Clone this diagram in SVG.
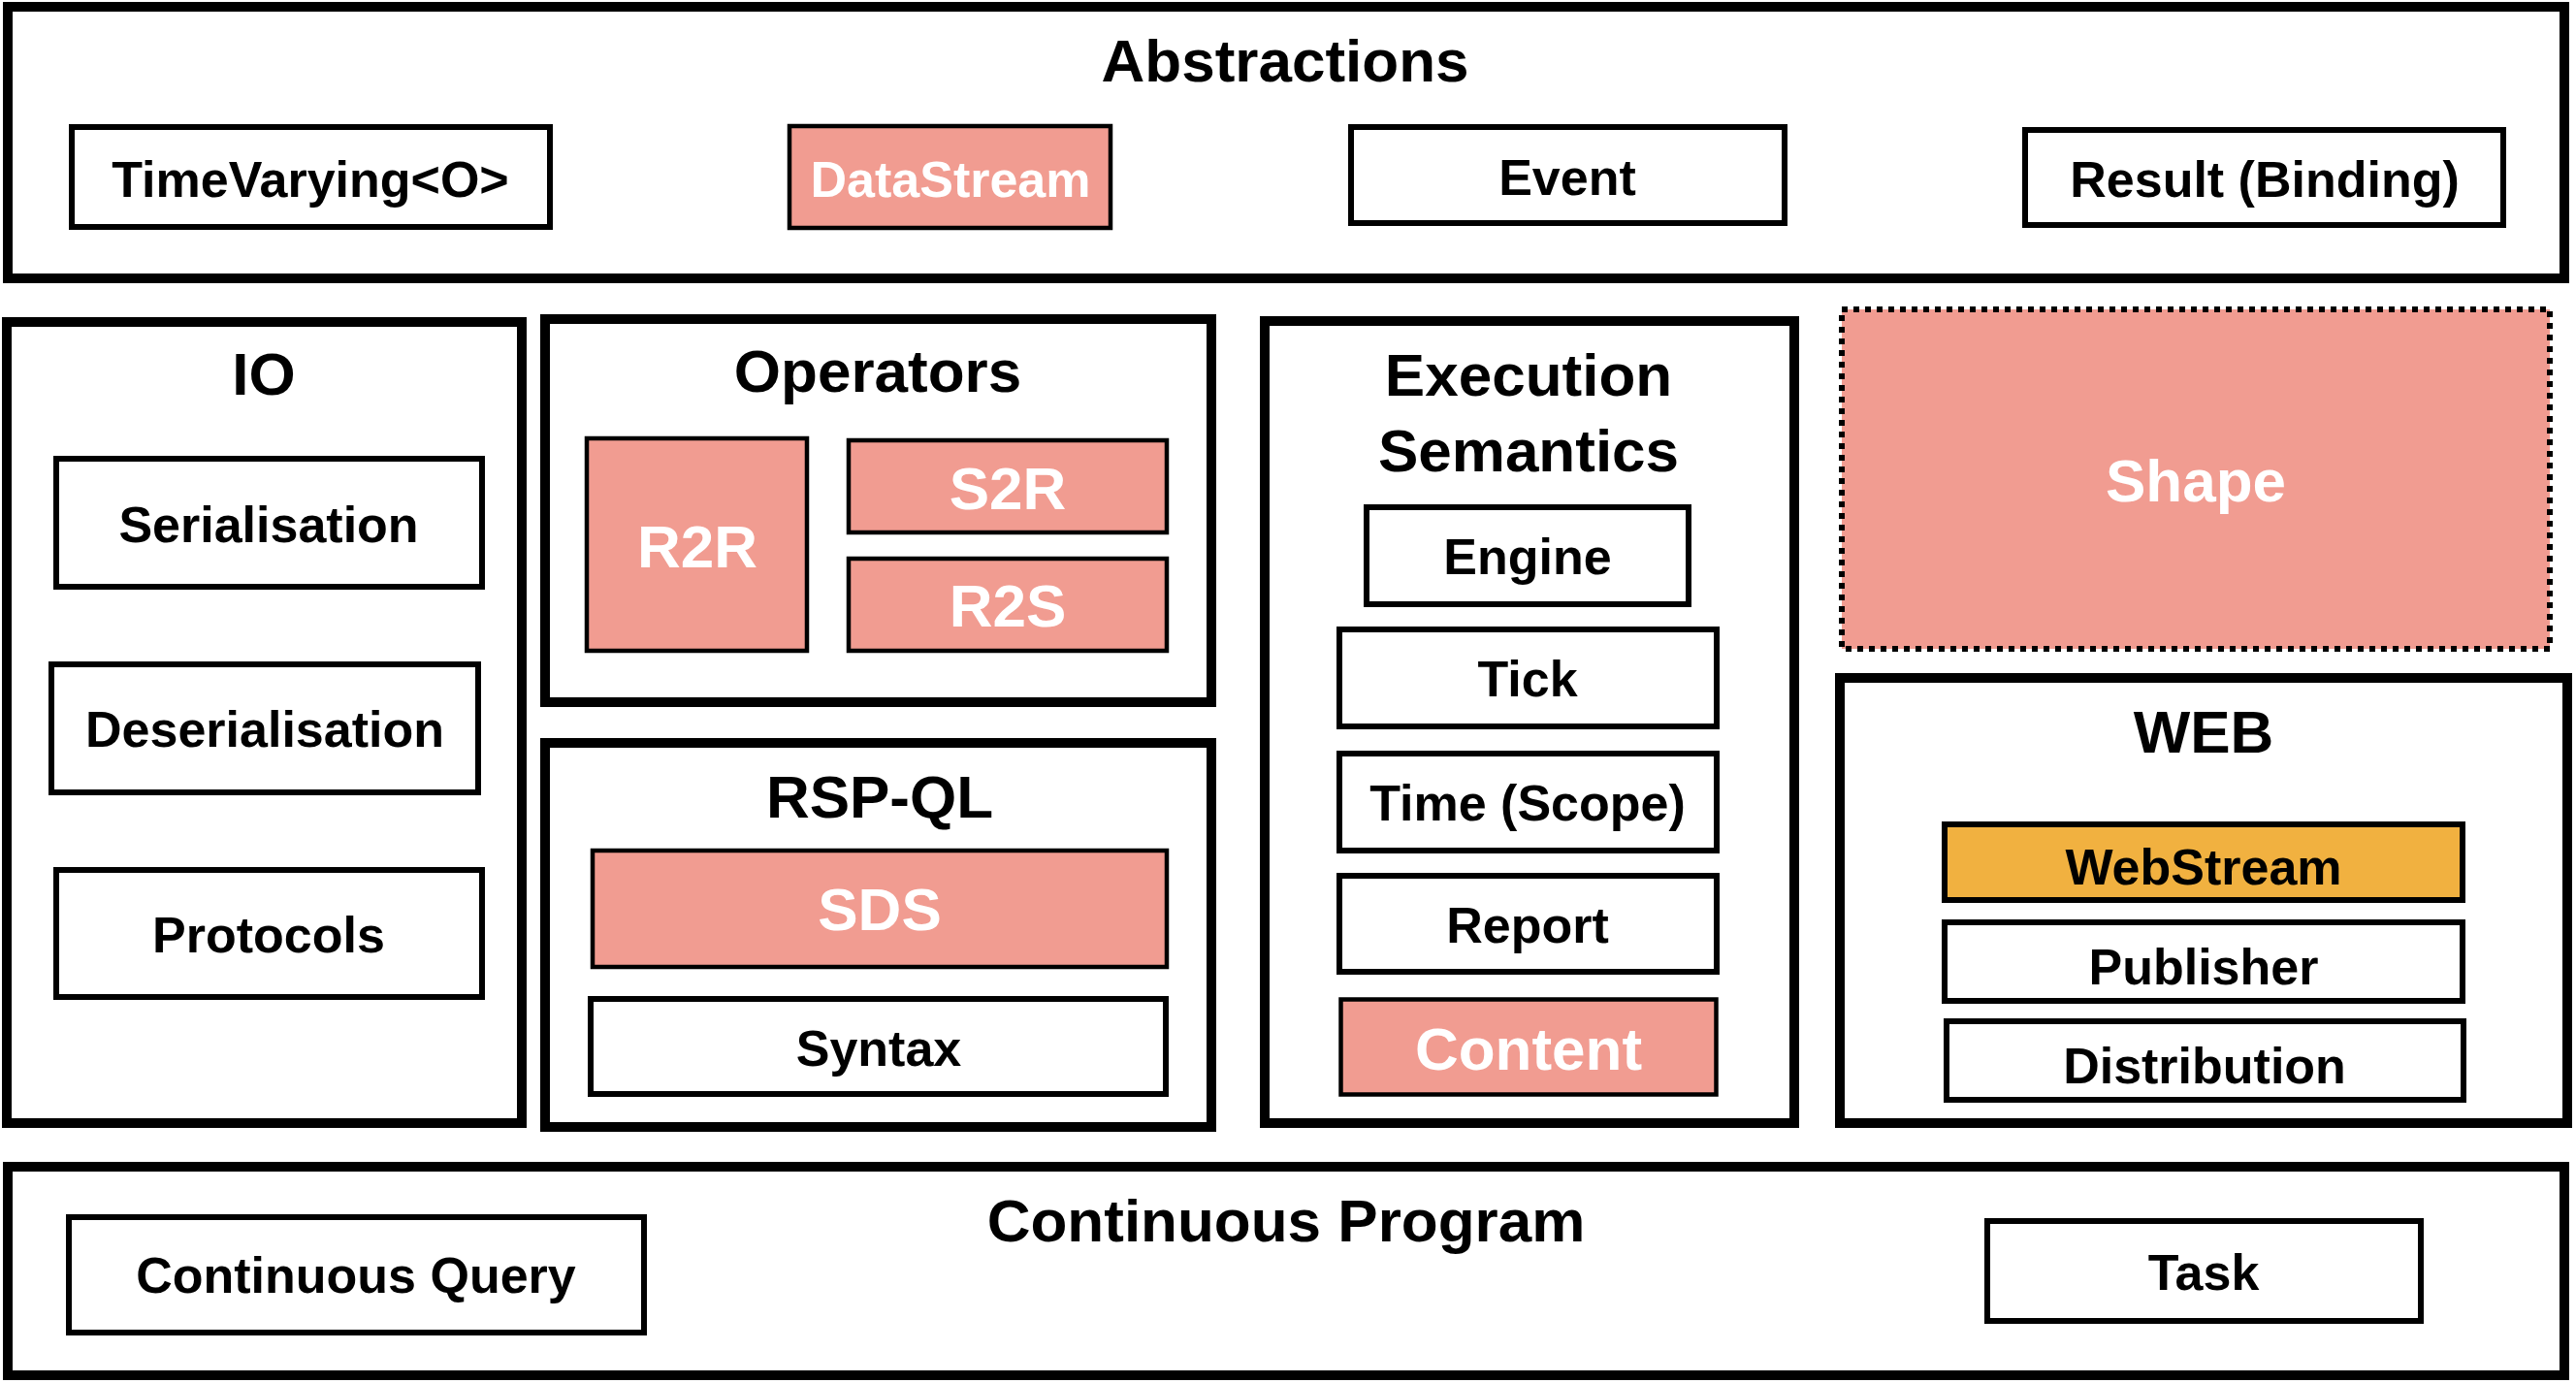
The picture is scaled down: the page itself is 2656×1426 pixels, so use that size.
<svg xmlns="http://www.w3.org/2000/svg" width="2656" height="1426" viewBox="0 0 2656 1426">
<style>
text{font-family:"Liberation Sans",Arial,Helvetica,sans-serif;font-weight:bold;text-anchor:middle;fill:#000}
.outer{fill:#fff;stroke:#000;stroke-width:10}
.box{fill:#fff;stroke:#000;stroke-width:6}
.salmon{fill:#F19C91;stroke:#000;stroke-width:4.5}
.orange{fill:#F1B140;stroke:#000;stroke-width:6}
.shape{fill:#F19C91;stroke:#000;stroke-width:6;stroke-dasharray:6 6}
.t{font-size:62px}
.l{font-size:52px}
.w{fill:#fff}
</style>
<rect width="2656" height="1426" fill="#fff"/>
<g id="abstractions">
<rect class="outer" x="8" y="7" width="2636" height="280"/>
<text class="t" x="1325" y="84">Abstractions</text>
</g>
<g id="timevarying"><rect class="box" x="74" y="131" width="493" height="103"/><text class="l" x="320" y="203">TimeVarying&lt;O&gt;</text></g>
<g id="datastream"><rect class="salmon" x="814" y="130" width="331" height="105"/><text class="l w" x="980" y="203">DataStream</text></g>
<g id="event"><rect class="box" x="1393" y="131" width="447" height="99"/><text class="l" x="1616" y="201">Event</text></g>
<g id="result"><rect class="box" x="2088" y="134" width="493" height="98"/><text class="l" x="2335" y="203">Result (Binding)</text></g>

<g id="io">
<rect class="outer" x="7" y="332" width="531" height="826"/>
<text class="t" x="272" y="407">IO</text>
</g>
<g id="serialisation"><rect class="box" x="58" y="473" width="439" height="132"/><text class="l" x="277" y="559">Serialisation</text></g>
<g id="deserialisation"><rect class="box" x="53" y="685" width="440" height="132"/><text class="l" x="273" y="770">Deserialisation</text></g>
<g id="protocols"><rect class="box" x="58" y="897" width="439" height="131"/><text class="l" x="277" y="982">Protocols</text></g>

<g id="operators">
<rect class="outer" x="562" y="329" width="687" height="395"/>
<text class="t" x="905" y="404">Operators</text>
</g>
<g id="r2r"><rect class="salmon" x="605" y="452" width="227" height="219"/><text class="t w" x="719" y="585">R2R</text></g>
<g id="s2r"><rect class="salmon" x="875" y="454" width="328" height="95"/><text class="t w" x="1039" y="525">S2R</text></g>
<g id="r2s"><rect class="salmon" x="875" y="576" width="328" height="95"/><text class="t w" x="1039" y="646">R2S</text></g>

<g id="rspql">
<rect class="outer" x="562" y="766" width="687" height="396"/>
<text class="t" x="907" y="843">RSP-QL</text>
</g>
<g id="sds"><rect class="salmon" x="611" y="877" width="592" height="120"/><text class="t w" x="907" y="959">SDS</text></g>
<g id="syntax"><rect class="box" x="609" y="1030" width="593" height="98"/><text class="l" x="906" y="1099">Syntax</text></g>

<g id="execution">
<rect class="outer" x="1304" y="331" width="546" height="827"/>
<text class="t" x="1576" y="408">Execution</text>
<text class="t" x="1576" y="486">Semantics</text>
</g>
<g id="engine"><rect class="box" x="1409" y="523" width="332" height="100"/><text class="l" x="1575" y="592">Engine</text></g>
<g id="tick"><rect class="box" x="1381" y="649" width="389" height="100"/><text class="l" x="1575" y="718">Tick</text></g>
<g id="time"><rect class="box" x="1381" y="777" width="389" height="100"/><text class="l" x="1575" y="846">Time (Scope)</text></g>
<g id="report"><rect class="box" x="1381" y="903" width="389" height="99"/><text class="l" x="1575" y="972">Report</text></g>
<g id="content"><rect class="salmon" x="1382.5" y="1030.5" width="387" height="98"/><text class="t w" x="1576" y="1103">Content</text></g>

<g id="shape"><rect class="shape" x="1899" y="319" width="730" height="350"/><text class="t w" x="2264" y="517">Shape</text></g>

<g id="web">
<rect class="outer" x="1897" y="699" width="750" height="459"/>
<text class="t" x="2272" y="776">WEB</text>
</g>
<g id="webstream"><rect class="orange" x="2005" y="850" width="534" height="78"/><text class="l" x="2272" y="912">WebStream</text></g>
<g id="publisher"><rect class="box" x="2005" y="951" width="534" height="81"/><text class="l" x="2272" y="1015">Publisher</text></g>
<g id="distribution"><rect class="box" x="2007" y="1053" width="533" height="81"/><text class="l" x="2273" y="1117">Distribution</text></g>

<g id="continuous-program">
<rect class="outer" x="8" y="1203" width="2636" height="215"/>
<text class="t" x="1326" y="1280">Continuous Program</text>
</g>
<g id="continuous-query"><rect class="box" x="71" y="1255" width="593" height="119"/><text class="l" x="367" y="1333">Continuous Query</text></g>
<g id="task"><rect class="box" x="2049" y="1259" width="447" height="103"/><text class="l" x="2272" y="1330">Task</text></g>

<g id="connectors"></g>
</svg>
